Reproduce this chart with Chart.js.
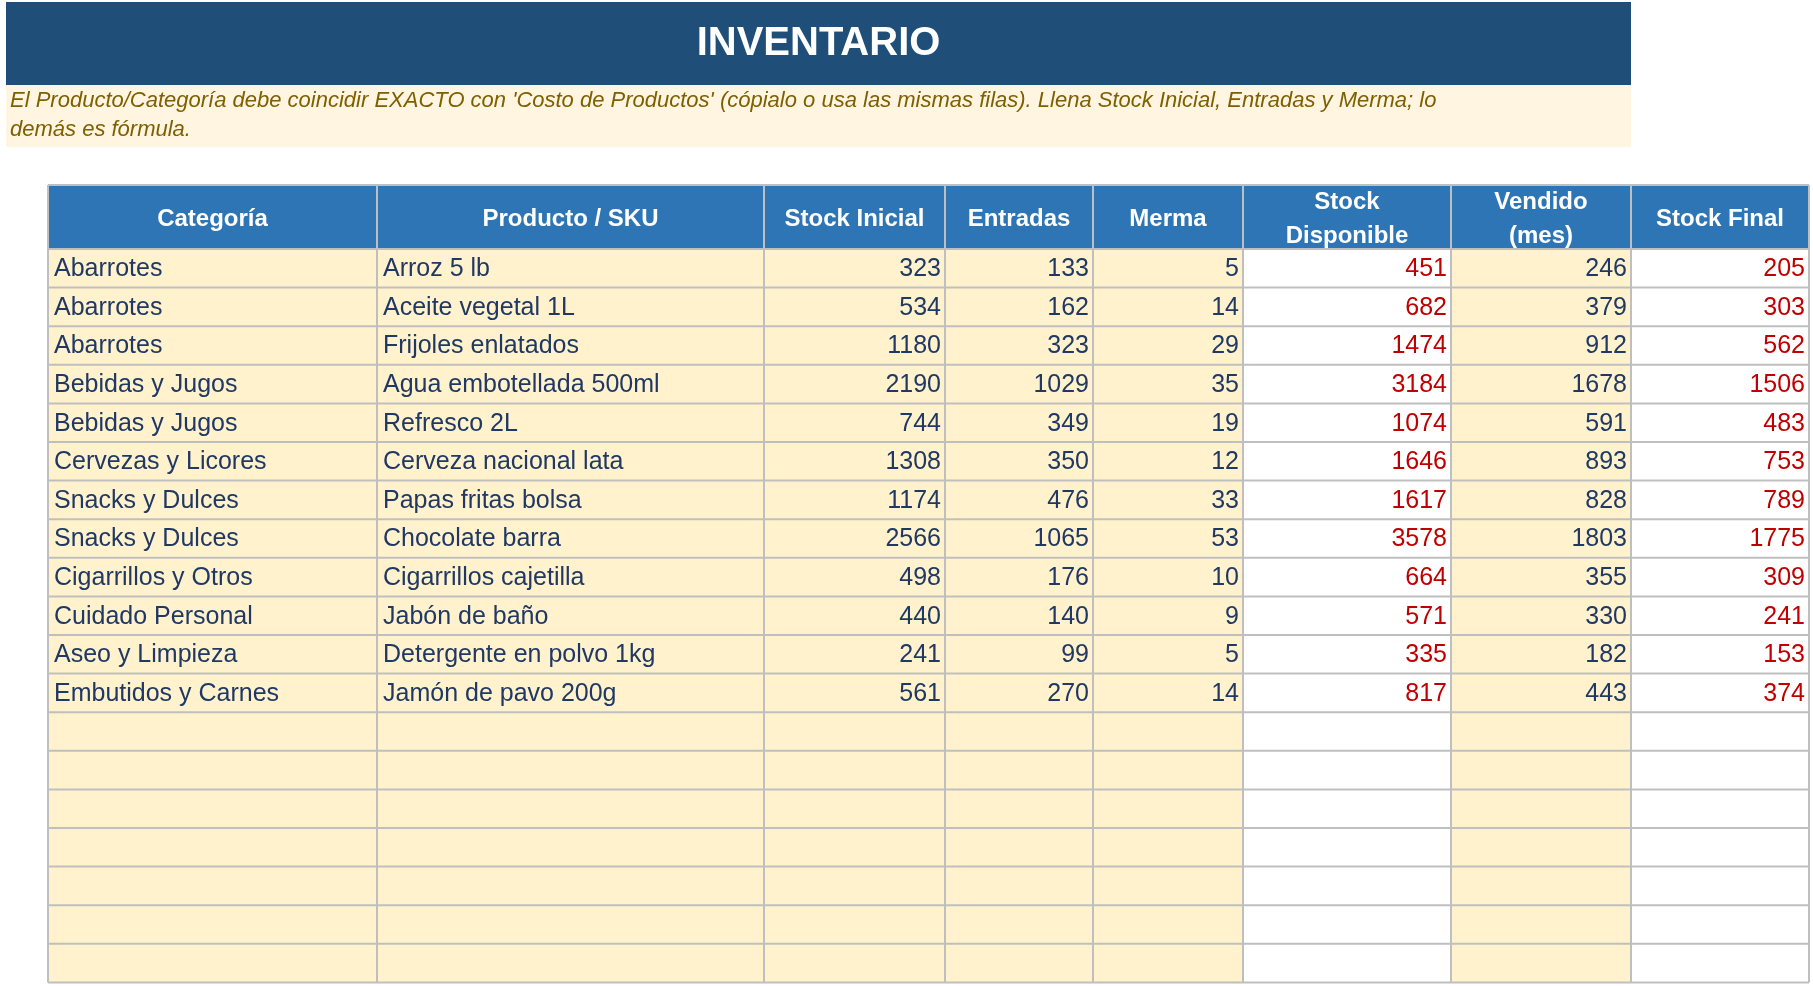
<!DOCTYPE html>
<html><head><meta charset="utf-8">
<script src="https://cdn.jsdelivr.net/npm/chart.js@4"></script>
<style>html,body{margin:0;padding:0;background:#fff}canvas{display:block}</style>
</head><body>
<canvas id="c" width="1813" height="986"></canvas>
<script>
const title = "INVENTARIO";
const note1 = "El Producto/Categoría debe coincidir EXACTO con 'Costo de Productos' (cópialo o usa las mismas filas). Llena Stock Inicial, Entradas y Merma; lo";
const note2 = "demás es fórmula.";
const headers = [["Categoría"],["Producto / SKU"],["Stock Inicial"],["Entradas"],["Merma"],["Stock","Disponible"],["Vendido","(mes)"],["Stock Final"]];
const categorias = ["Abarrotes","Abarrotes","Abarrotes","Bebidas y Jugos","Bebidas y Jugos","Cervezas y Licores","Snacks y Dulces","Snacks y Dulces","Cigarrillos y Otros","Cuidado Personal","Aseo y Limpieza","Embutidos y Carnes"];
const productos = ["Arroz 5 lb","Aceite vegetal 1L","Frijoles enlatados","Agua embotellada 500ml","Refresco 2L","Cerveza nacional lata","Papas fritas bolsa","Chocolate barra","Cigarrillos cajetilla","Jabón de baño","Detergente en polvo 1kg","Jamón de pavo 200g"];
const stockInicial = [323,534,1180,2190,744,1308,1174,2566,498,440,241,561];
const entradas = [133,162,323,1029,349,350,476,1065,176,140,99,270];
const merma = [5,14,29,35,19,12,33,53,10,9,5,14];
const stockDisponible = [451,682,1474,3184,1074,1646,1617,3578,664,571,335,817];
const vendido = [246,379,912,1678,591,893,828,1803,355,330,182,443];
const stockFinal = [205,303,562,1506,483,753,789,1775,309,241,153,374];
const totalRows = 19;

// layout (in canvas units, mapped through the chart's scales)
const colEdges = [48,377,764,945,1093,1243,1451,1631,1809];
const headTop = 185, headBot = 249, rowH = 38.6;
const colFill = ['#FFF2CC','#FFF2CC','#FFF2CC','#FFF2CC','#FFF2CC','#FFFFFF','#FFF2CC','#FFFFFF'];

const tablePlugin = {
  id:'table',
  afterDraw(chart){
    const ctx = chart.ctx, X = v=>chart.scales.x.getPixelForValue(v), Y = v=>chart.scales.y.getPixelForValue(v);
    ctx.save();
    // title
    ctx.fillStyle='#1F4E79'; ctx.fillRect(X(6),Y(2),X(1631)-X(6),Y(85)-Y(2));
    ctx.fillStyle='#fff'; ctx.font='bold 40px "Liberation Sans", Arial'; ctx.textAlign='center'; ctx.textBaseline='middle';
    ctx.fillText(title,(X(6)+X(1631))/2,Y(44));
    ctx.fillStyle='#FFF5E0'; ctx.fillRect(X(6),Y(85),X(1631)-X(6),Y(147)-Y(85));
    ctx.fillStyle='#7F6000'; ctx.font='italic 22px "Liberation Sans", Arial'; ctx.textAlign='left';
    ctx.fillText(note1,X(10),Y(101)); ctx.fillText(note2,X(10),Y(130));
    // header
    ctx.fillStyle='#2E75B6'; ctx.fillRect(X(48),Y(headTop),X(1809)-X(48),Y(headBot)-Y(headTop));
    ctx.fillStyle='#fff'; ctx.font='bold 24px "Liberation Sans", Arial'; ctx.textAlign='center';
    headers.forEach((h,i)=>{
      const cx=(X(colEdges[i])+X(colEdges[i+1]))/2, cy=(Y(headTop)+Y(headBot))/2;
      if(h.length===1) ctx.fillText(h[0],cx,cy+2);
      else {ctx.fillText(h[0],cx,cy-15); ctx.fillText(h[1],cx,cy+19);}
    });
    // body
    const cols=[categorias,productos,stockInicial,entradas,merma,stockDisponible,vendido,stockFinal];
    for(let r=0;r<totalRows;r++){
      const t=headBot+r*rowH, b=t+rowH;
      for(let c=0;c<8;c++){
        ctx.fillStyle=colFill[c]; ctx.fillRect(X(colEdges[c]),Y(t),X(colEdges[c+1])-X(colEdges[c]),Y(b)-Y(t));
        if(r<categorias.length){
          ctx.font='25px "Liberation Sans", Arial';
          ctx.fillStyle=(c===5||c===7)?'#C00000':'#1F3864';
          const cy=(Y(t)+Y(b))/2+1;
          if(c<2){ctx.textAlign='left'; ctx.fillText(cols[c][r],X(colEdges[c])+6,cy);}
          else {ctx.textAlign='right'; ctx.fillText(String(cols[c][r]),X(colEdges[c+1])-4,cy);}
        }
      }
    }
    // grid
    ctx.strokeStyle='#BFBFBF'; ctx.lineWidth=2;
    const bottom=headBot+totalRows*rowH;
    colEdges.forEach(x=>{ctx.beginPath();ctx.moveTo(X(x),Y(headTop));ctx.lineTo(X(x),Y(bottom));ctx.stroke();});
    ctx.beginPath();ctx.moveTo(X(48),Y(headTop));ctx.lineTo(X(1809),Y(headTop));ctx.stroke();
    for(let r=0;r<=totalRows;r++){const y=headBot+r*rowH;ctx.beginPath();ctx.moveTo(X(48),Y(y));ctx.lineTo(X(1809),Y(y));ctx.stroke();}
    ctx.restore();
  }
};

new Chart(document.getElementById('c'),{
  type:'scatter',
  data:{datasets:[{data:[],pointRadius:0}]},
  options:{responsive:false,devicePixelRatio:1,animation:false,
    layout:{padding:0},
    plugins:{legend:{display:false},tooltip:{enabled:false}},
    scales:{x:{type:'linear',min:0,max:1813,display:false},y:{type:'linear',min:0,max:986,reverse:true,display:false}}},
  plugins:[tablePlugin]
});
</script>
</body></html>
